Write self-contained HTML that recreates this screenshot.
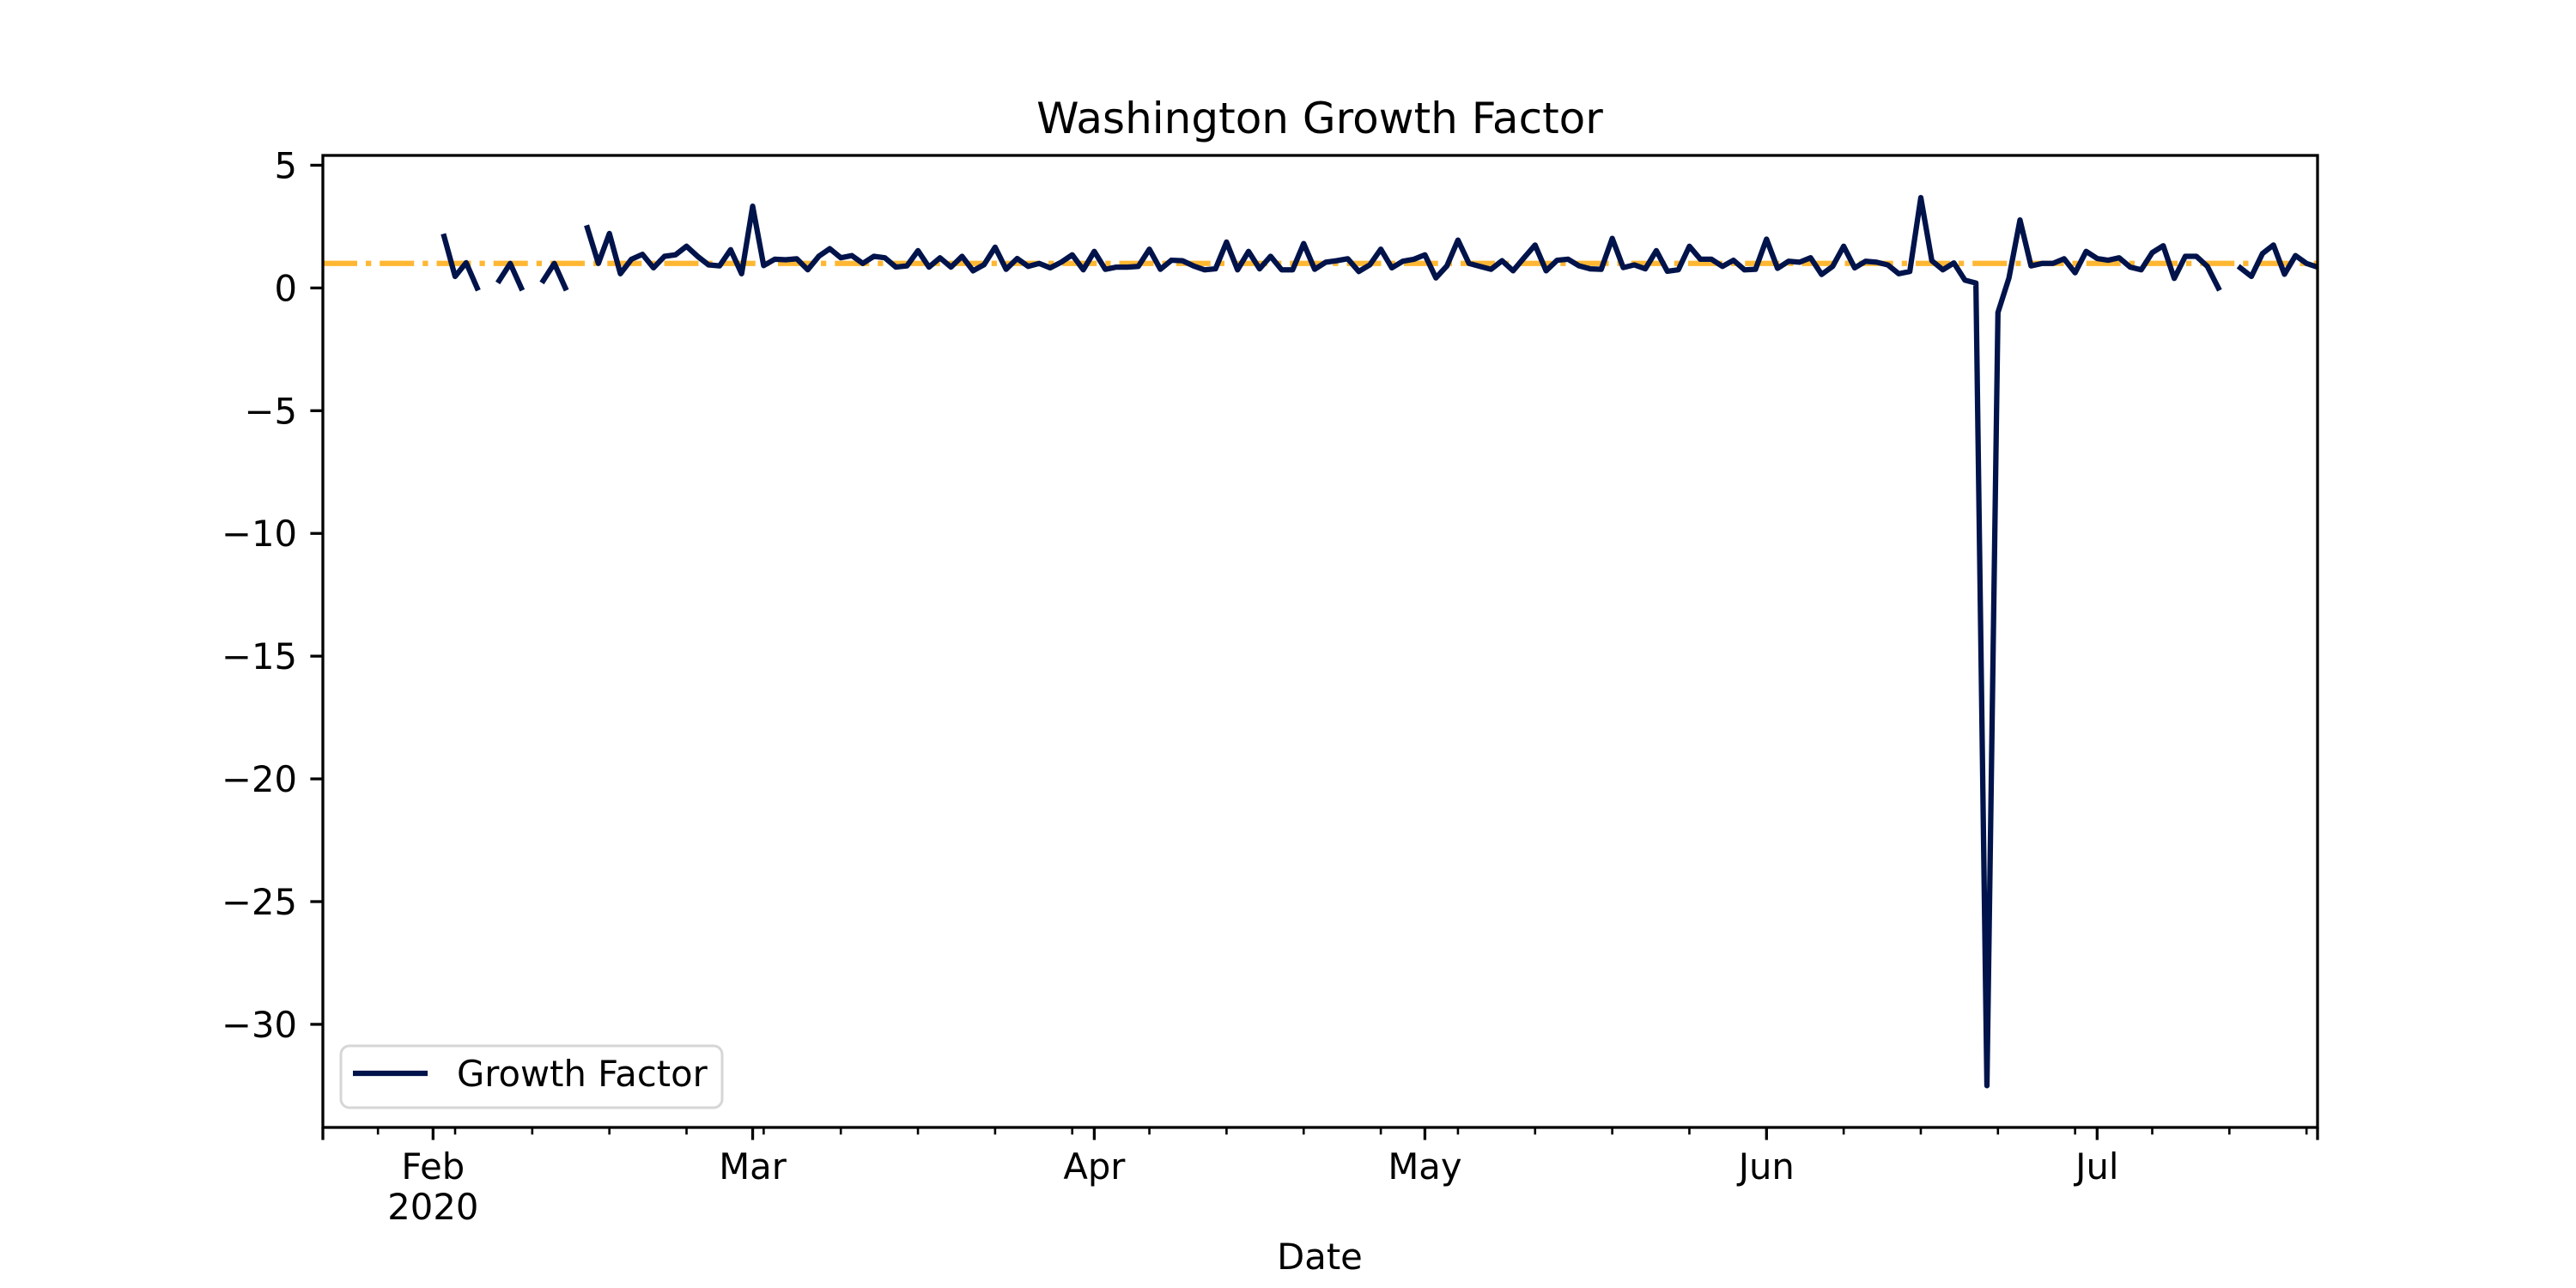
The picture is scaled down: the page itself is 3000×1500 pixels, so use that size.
<!DOCTYPE html>
<html><head><meta charset="utf-8"><style>
html,body{margin:0;padding:0;background:#fff}
svg{display:block}
text{font-family:"DejaVu Sans","Liberation Sans",sans-serif;fill:#000}
</style></head>
<body>
<svg id="chart" width="3000" height="1500" viewBox="0 0 3000 1500" xmlns="http://www.w3.org/2000/svg">
<rect x="0" y="0" width="3000" height="1500" fill="#fff"/>
<defs><clipPath id="clipAx"><rect x="376" y="181" width="2323" height="1132"/></clipPath></defs>
<text x="1537" y="155" text-anchor="middle" font-size="50">Washington Growth Factor</text>
<g id="plot" clip-path="url(#clipAx)"></g>
<g id="axes"></g>
<text x="1537" y="1478" text-anchor="middle" font-size="41.7">Date</text>
<g>
<rect x="397" y="1218" width="444" height="72" rx="10" ry="10" fill="#fff" fill-opacity="0.8" stroke="#d6d6d6" stroke-width="3"/>
<line x1="411" y1="1250" x2="498" y2="1250" stroke="#00134a" stroke-width="6.25"/>
<text x="532" y="1265" font-size="41.7">Growth Factor</text>
</g>
</svg>
<script>
const startDate = "2020-01-22";
const seriesValues = [
null,null,null,null,null,null,null,null,null,null,
null,2.1,0.47,1.03,0,null,0.3,1.0,0,null,
0.3,1.0,0,null,2.45,1.0,2.22,0.58,1.17,1.37,
0.82,1.29,1.35,1.7,1.29,0.94,0.9,1.56,0.58,3.33,
0.91,1.17,1.15,1.19,0.74,1.29,1.6,1.23,1.32,1.0,
1.29,1.23,0.85,0.9,1.52,0.85,1.23,0.85,1.29,0.7,
0.95,1.66,0.76,1.2,0.88,1.0,0.82,1.05,1.35,0.74,
1.49,0.76,0.85,0.85,0.88,1.58,0.76,1.13,1.11,0.9,
0.74,0.78,1.87,0.74,1.49,0.78,1.29,0.74,0.74,1.81,
0.76,1.05,1.11,1.19,0.67,0.94,1.58,0.82,1.09,1.17,
1.35,0.41,0.9,1.95,1.0,0.88,0.76,1.11,0.7,1.23,
1.75,0.7,1.13,1.17,0.9,0.78,0.76,2.02,0.83,0.94,
0.78,1.52,0.68,0.74,1.7,1.17,1.17,0.88,1.13,0.74,
0.76,1.99,0.8,1.09,1.05,1.23,0.55,0.88,1.7,0.82,
1.09,1.05,0.94,0.58,0.67,3.68,1.11,0.74,1.02,0.32,
0.2,-32.5,-1.0,0.41,2.77,0.9,1.0,1.0,1.19,0.62,
1.49,1.2,1.13,1.23,0.85,0.74,1.44,1.72,0.39,1.29,
1.29,0.88,0,null,0.82,0.47,1.4,1.75,0.56,1.32,
1.0,0.85
];
const refValue = [1.0];
const yTickValues = [5,0,-5,-10,-15,-20,-25,-30];
const yTickLabels = ["5","0","\u22125","\u221210","\u221215","\u221220","\u221225","\u221230"];
const monthTickDates = ["2020-02-01","2020-03-01","2020-04-01","2020-05-01","2020-06-01","2020-07-01"];
const monthTickLabels = ["Feb","Mar","Apr","May","Jun","Jul"];

const NS="http://www.w3.org/2000/svg";
const AX={l:376,r:2699,t:181,b:1313};
const X0=Date.parse(startDate+"T00:00:00Z");
const nDays=seriesValues.length-1;
const yMin=-34.2, yMax=5.4;
function dayOf(s){return (Date.parse(s+"T00:00:00Z")-X0)/86400000;}
function xScale(d){return AX.l+(d/nDays)*(AX.r-AX.l);}
function yScale(v){return AX.b-(v-yMin)/(yMax-yMin)*(AX.b-AX.t);}
function mk(tag,attrs,parent){const e=document.createElementNS(NS,tag);for(const k in attrs)e.setAttribute(k,attrs[k]);parent.appendChild(e);return e;}
const plot=document.getElementById('plot');
const axes=document.getElementById('axes');

const ref=mk('line',{x1:AX.l,x2:AX.r,y1:yScale(refValue[0]),y2:yScale(refValue[0]),stroke:'#ffa500','stroke-opacity':'0.8','stroke-width':'6.25','stroke-dasharray':'40 10 6.25 10'},plot);



let segs=[],cur=[];
seriesValues.forEach((v,i)=>{if(v===null){if(cur.length)segs.push(cur);cur=[];}else cur.push([xScale(i),yScale(v)]);});
if(cur.length)segs.push(cur);
segs.forEach((s,k)=>{
  const p=mk('path',{d:'M'+s.map(q=>q[0].toFixed(2)+','+q[1].toFixed(2)).join('L'),fill:'none',stroke:'#00134a','stroke-width':'6.25','stroke-linejoin':'round','stroke-linecap':'square'},plot);
  
  
});

const fr=mk('rect',{x:AX.l,y:AX.t,width:AX.r-AX.l,height:AX.b-AX.t,fill:'none',stroke:'#000','stroke-width':'3.3'},axes);



yTickValues.forEach((v,i)=>{
  const y=yScale(v);
  const t=mk('line',{x1:AX.l-14.6,x2:AX.l,y1:y,y2:y,stroke:'#000','stroke-width':'3.3'},axes);
  
  
  const lb=mk('text',{x:AX.l-30,y:y+15,'text-anchor':'end','font-size':'41.7'},axes);
  lb.textContent=yTickLabels[i];
  
  
});

for(let d=5; d<=nDays; d+=7){
  const x=xScale(d);
  const t=mk('line',{x1:x,x2:x,y1:AX.b,y2:AX.b+8.3,stroke:'#000','stroke-width':'2.6'},axes);
  
  
}
[0,nDays].forEach(d=>{
  const x=xScale(d);
  const t=mk('line',{x1:x,x2:x,y1:AX.b,y2:AX.b+14.6,stroke:'#000','stroke-width':'3.3'},axes);
  
  
});
monthTickDates.forEach((s,i)=>{
  const x=xScale(dayOf(s));
  const t=mk('line',{x1:x,x2:x,y1:AX.b,y2:AX.b+14.6,stroke:'#000','stroke-width':'3.3'},axes);
  
  
  const lb=mk('text',{x:x,y:1373,'text-anchor':'middle','font-size':'41.7'},axes);
  lb.textContent=monthTickLabels[i];
  
  
  if(i===0){
    const yr=mk('text',{x:x,y:1420,'text-anchor':'middle','font-size':'41.7'},axes);
    yr.textContent=startDate.slice(0,4);
    
    
  }
});
</script>
</body></html>
